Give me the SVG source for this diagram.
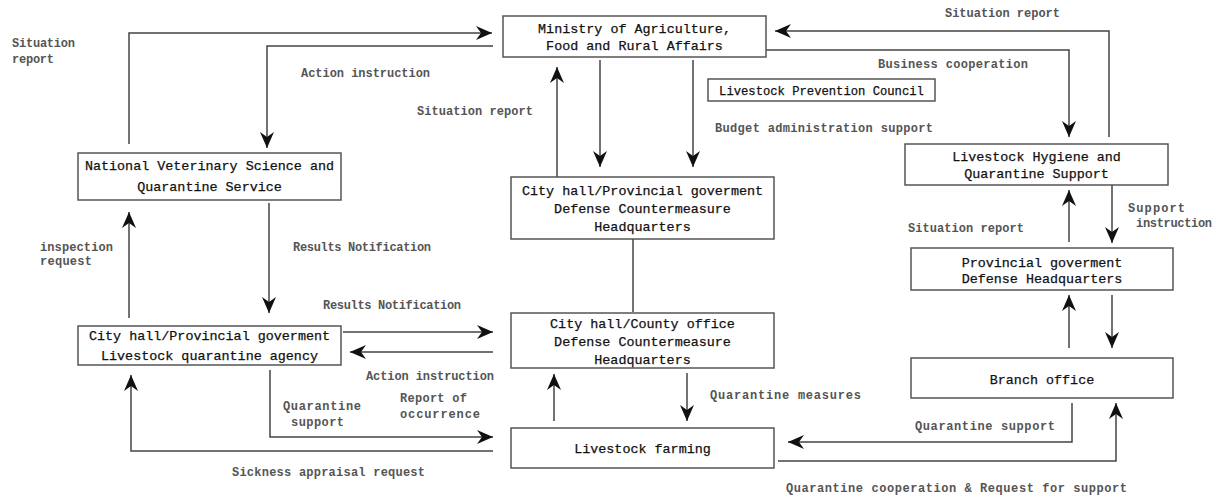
<svg xmlns="http://www.w3.org/2000/svg" width="1219" height="499" viewBox="0 0 1219 499">
<style>
.box{fill:#fff;stroke:#555;stroke-width:1.5}
.nt{font-family:"Liberation Mono","DejaVu Sans Mono",monospace;font-size:13.4px;fill:#111;stroke:#111;stroke-width:0.25;text-anchor:middle}
.lb{font-family:"Liberation Mono","DejaVu Sans Mono",monospace;font-size:12px;font-weight:bold;fill:#555}
.ln{fill:none;stroke:#444;stroke-width:1.5}
</style>
<defs>
<marker id="ah" markerUnits="userSpaceOnUse" markerWidth="16" markerHeight="14" refX="16" refY="7" orient="auto">
<path d="M0,0 L16,7 L0,14 L5,7 z" fill="#111"/>
</marker>
</defs>
<rect width="1219" height="499" fill="#fff"/>
<g id="connectors">
<path class="ln" d="M129,144 V33 H492" marker-end="url(#ah)"/>
<path class="ln" d="M493,46 H267 V148" marker-end="url(#ah)"/>
<path class="ln" d="M600,60 V167" marker-end="url(#ah)"/>
<path class="ln" d="M693,60 V167" marker-end="url(#ah)"/>
<path class="ln" d="M557,177 V67" marker-end="url(#ah)"/>
<path class="ln" d="M766,50 H1069 V137" marker-end="url(#ah)"/>
<path class="ln" d="M1109,137 V31 H775" marker-end="url(#ah)"/>
<path class="ln" d="M1112,185 V243" marker-end="url(#ah)"/>
<path class="ln" d="M1069,242 V190" marker-end="url(#ah)"/>
<path class="ln" d="M1112,295 V348" marker-end="url(#ah)"/>
<path class="ln" d="M1069,348 V295" marker-end="url(#ah)"/>
<path class="ln" d="M1072,403 V442 H788" marker-end="url(#ah)"/>
<path class="ln" d="M778,461 H1116 V403" marker-end="url(#ah)"/>
<path class="ln" d="M633,239 V312"/>
<path class="ln" d="M687,373 V421" marker-end="url(#ah)"/>
<path class="ln" d="M554,421 V374" marker-end="url(#ah)"/>
<path class="ln" d="M343,332 H493" marker-end="url(#ah)"/>
<path class="ln" d="M493,352 H350" marker-end="url(#ah)"/>
<path class="ln" d="M269,203 V313" marker-end="url(#ah)"/>
<path class="ln" d="M129,318 V212" marker-end="url(#ah)"/>
<path class="ln" d="M270,370 V437 H493" marker-end="url(#ah)"/>
<path class="ln" d="M493,451 H131 V375" marker-end="url(#ah)"/>
</g>
<g id="labels">
<text class="lb" x="12" y="47" textLength="63">Situation</text>
<text class="lb" x="12" y="63" textLength="42">report</text>
<text class="lb" x="301" y="77" textLength="129">Action instruction</text>
<text class="lb" x="417" y="115" textLength="116">Situation report</text>
<text class="lb" x="878" y="68" textLength="150">Business cooperation</text>
<text class="lb" x="715" y="132" textLength="218">Budget administration support</text>
<text class="lb" x="945" y="17" textLength="115">Situation report</text>
<text class="lb" x="1128" y="212" textLength="57">Support</text>
<text class="lb" x="1136" y="227" textLength="76">instruction</text>
<text class="lb" x="908" y="232" textLength="116">Situation report</text>
<text class="lb" x="40" y="251" textLength="73">inspection</text>
<text class="lb" x="40" y="265" textLength="52">request</text>
<text class="lb" x="293" y="251" textLength="138">Results Notification</text>
<text class="lb" x="323" y="309" textLength="138">Results Notification</text>
<text class="lb" x="366" y="380" textLength="128">Action instruction</text>
<text class="lb" x="283" y="410" textLength="78">Quarantine</text>
<text class="lb" x="291" y="426" textLength="53">support</text>
<text class="lb" x="400" y="402" textLength="67">Report of</text>
<text class="lb" x="400" y="418" textLength="80">occurrence</text>
<text class="lb" x="232" y="476" textLength="193">Sickness appraisal request</text>
<text class="lb" x="710" y="399" textLength="151">Quarantine measures</text>
<text class="lb" x="915" y="430" textLength="140">Quarantine support</text>
<text class="lb" x="786" y="492" textLength="341">Quarantine cooperation &amp; Request for support</text>
</g>
<g id="ministry">
<rect class="box" x="503" y="16" width="263" height="41"/>
<text class="nt" x="634.5" y="32.5">Ministry of Agriculture,</text>
<text class="nt" x="634.5" y="49.5">Food and Rural Affairs</text>
</g>
<g id="council">
<rect class="box" x="708" y="79" width="227" height="22"/>
<text class="nt" x="821.5" y="94.5" style="font-size:12.2px">Livestock Prevention Council</text>
</g>
<g id="nvsqs">
<rect class="box" x="78" y="153" width="263" height="47"/>
<text class="nt" x="209.5" y="169.5">National Veterinary Science and</text>
<text class="nt" x="209.5" y="190.5">Quarantine Service</text>
</g>
<g id="cpg-hq">
<rect class="box" x="511" y="177" width="263" height="62"/>
<text class="nt" x="642.5" y="194.5">City hall/Provincial goverment</text>
<text class="nt" x="642.5" y="212.5">Defense Countermeasure</text>
<text class="nt" x="642.5" y="230.5">Headquarters</text>
</g>
<g id="county-hq">
<rect class="box" x="511" y="313" width="263" height="55"/>
<text class="nt" x="642.5" y="327.5">City hall/County office</text>
<text class="nt" x="642.5" y="345.5">Defense Countermeasure</text>
<text class="nt" x="642.5" y="363.5">Headquarters</text>
</g>
<g id="farming">
<rect class="box" x="511" y="428" width="263" height="40"/>
<text class="nt" x="642.5" y="452.5">Livestock farming</text>
</g>
<g id="quarantine-agency">
<rect class="box" x="78" y="326" width="263" height="39"/>
<text class="nt" x="209.5" y="339.5">City hall/Provincial goverment</text>
<text class="nt" x="209.5" y="359.5">Livestock quarantine agency</text>
</g>
<g id="hygiene-support">
<rect class="box" x="905" y="144" width="263" height="41"/>
<text class="nt" x="1036.5" y="160.5">Livestock Hygiene and</text>
<text class="nt" x="1036.5" y="177.5">Quarantine Support</text>
</g>
<g id="provincial-hq">
<rect class="box" x="911" y="248" width="262" height="42"/>
<text class="nt" x="1042" y="266.5">Provincial goverment</text>
<text class="nt" x="1042" y="282.5">Defense Headquarters</text>
</g>
<g id="branch">
<rect class="box" x="911" y="358" width="262" height="40"/>
<text class="nt" x="1042" y="383.5">Branch office</text>
</g>
</svg>
